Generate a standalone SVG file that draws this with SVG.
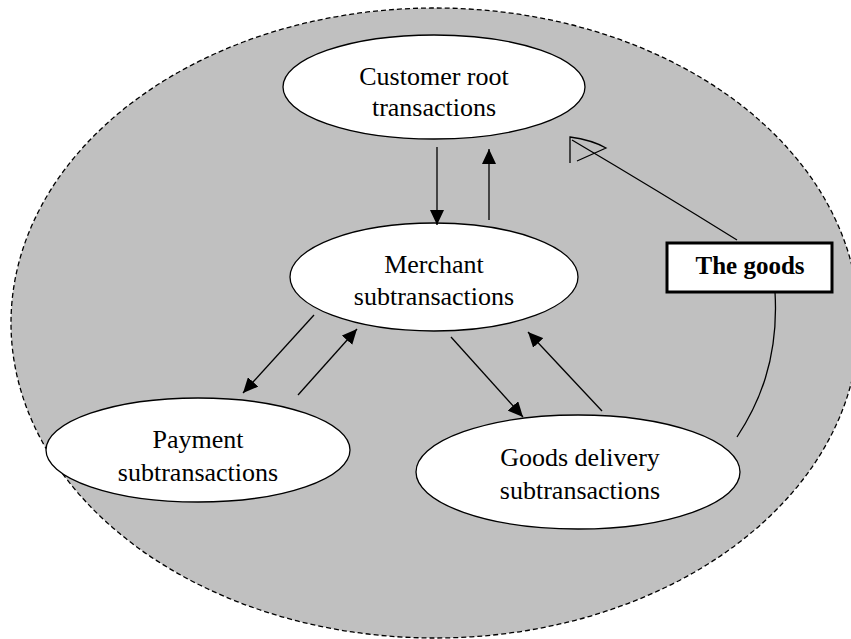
<svg xmlns="http://www.w3.org/2000/svg" width="851" height="639" viewBox="0 0 851 639">
  <style>
    .node { fill: #ffffff; stroke: #000000; stroke-width: 1.3; }
    .lbl { font-size: 26px; fill: #000000; text-anchor: middle; }
    .conn { stroke: #000000; stroke-width: 1.3; fill: none; }
    .arrow { marker-end: url(#head); }
  </style>
  <defs>
    <marker id="head" markerUnits="userSpaceOnUse" markerWidth="16" markerHeight="14" refX="15" refY="7" orient="auto">
      <path d="M0,0 L15,7 L0,14 Z" fill="#000000"/>
    </marker>
  </defs>

  <!-- enclosing domain -->
  <ellipse id="domain" cx="435" cy="323" rx="424" ry="315" fill="#c0c0c0" stroke="#000000" stroke-width="1.3" stroke-dasharray="5,3"/>

  <g font-family="Liberation Serif, Times New Roman, serif">
    <g id="customer">
      <ellipse class="node" cx="434" cy="87" rx="151" ry="52"/>
      <text class="lbl" x="434" y="85">Customer root</text>
      <text class="lbl" x="434" y="116">transactions</text>
    </g>

    <g id="merchant">
      <ellipse class="node" cx="434" cy="277" rx="144" ry="54"/>
      <text class="lbl" x="434" y="273">Merchant</text>
      <text class="lbl" x="434" y="305">subtransactions</text>
    </g>

    <g id="payment">
      <ellipse class="node" cx="198" cy="450" rx="152" ry="52"/>
      <text class="lbl" x="198" y="448">Payment</text>
      <text class="lbl" x="198" y="481">subtransactions</text>
    </g>

    <g id="delivery">
      <ellipse class="node" cx="578" cy="472" rx="162" ry="57"/>
      <text class="lbl" x="580" y="466">Goods delivery</text>
      <text class="lbl" x="580" y="499">subtransactions</text>
    </g>

    <g id="goods">
      <rect x="667" y="243" width="165" height="49" fill="#ffffff" stroke="#000000" stroke-width="3"/>
      <text x="750" y="274" font-size="25" font-weight="bold" text-anchor="middle">The goods</text>
    </g>
  </g>

  <g id="connectors">
    <line class="conn arrow" x1="437" y1="147" x2="437" y2="225"/>
    <line class="conn arrow" x1="489" y1="220" x2="489" y2="149"/>
    <line class="conn arrow" x1="314" y1="315" x2="243" y2="393"/>
    <line class="conn arrow" x1="298" y1="395" x2="357" y2="329"/>
    <line class="conn arrow" x1="451" y1="337" x2="523" y2="417"/>
    <line class="conn arrow" x1="602" y1="411" x2="528" y2="332"/>
    <!-- goods flow back to the customer -->
    <path class="conn" d="M737,437 C758,405 779,360 775,292"/>
    <path class="conn" d="M737,240 Q660,192 572,140"/>
    <path class="conn" d="M570,163 V137 Q592,140 606,148 L577,161"/>
  </g>
</svg>
